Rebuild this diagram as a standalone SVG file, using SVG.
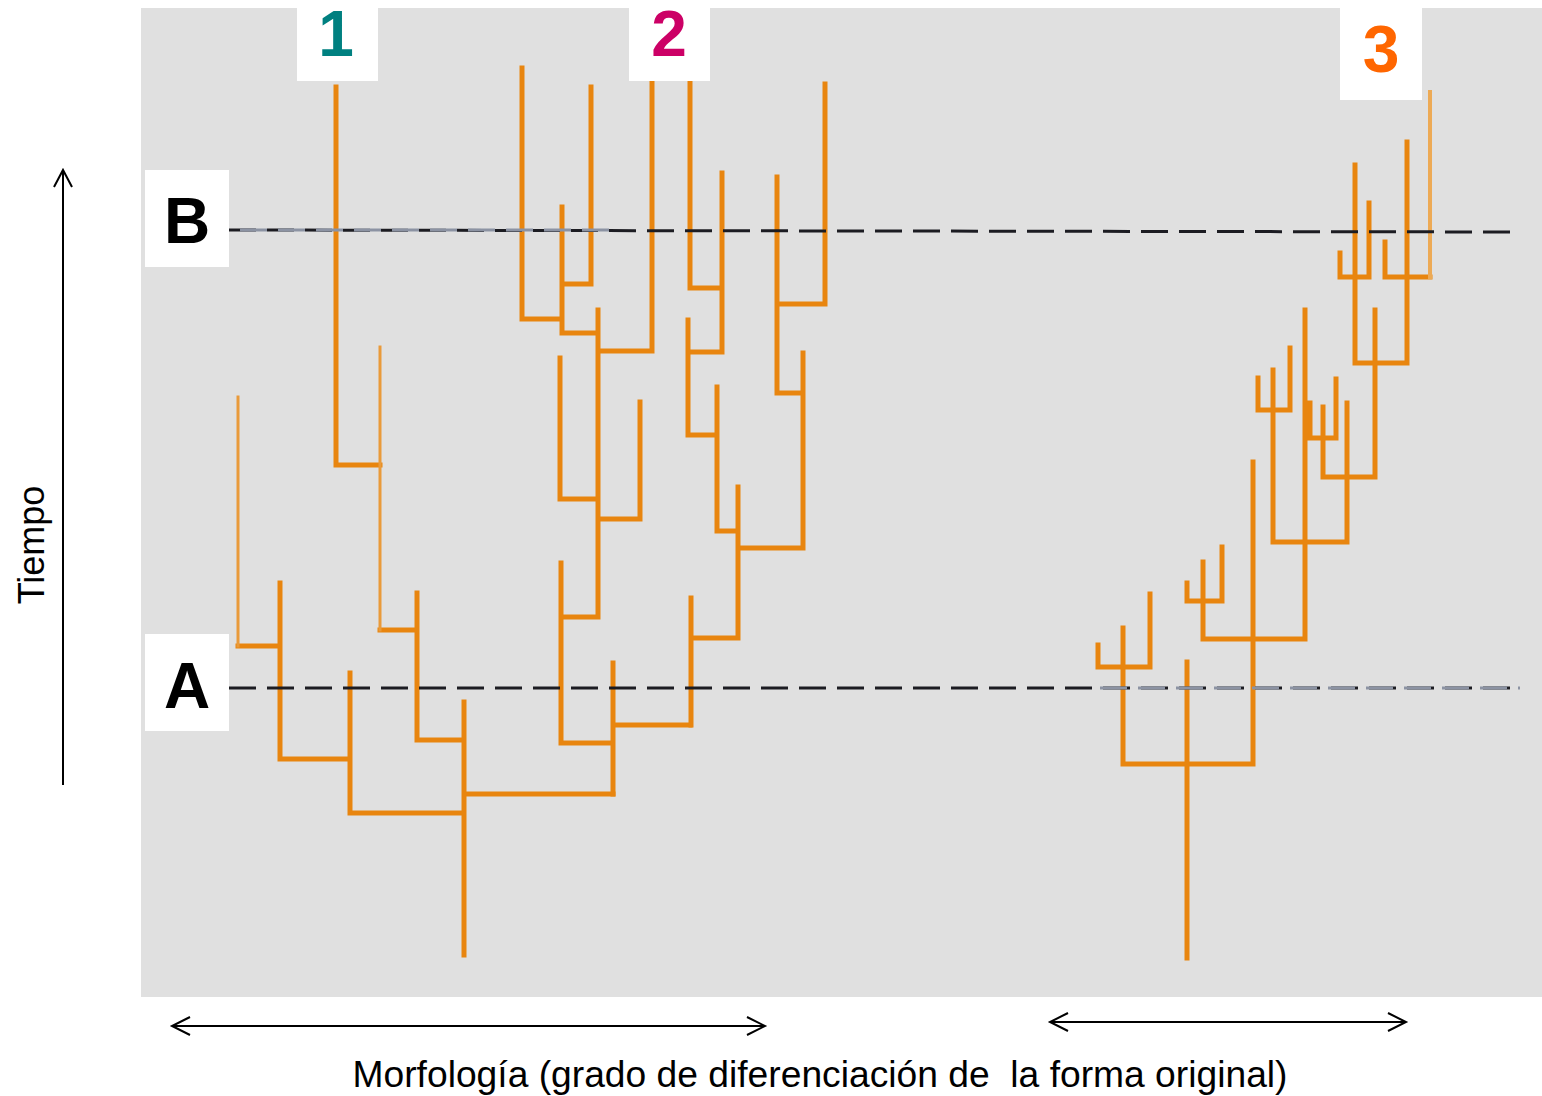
<svg xmlns="http://www.w3.org/2000/svg" width="1542" height="1096" viewBox="0 0 1542 1096">
<style>
.br{fill:none;stroke:#e8850f;stroke-width:5;stroke-linecap:square}
.tn{fill:none;stroke:#e99a3a;stroke-width:3;stroke-linecap:square}
.dash{fill:none;stroke:#1c1c22;stroke-width:3;stroke-dasharray:27 11}
.dashl{fill:none;stroke:#8c93a3;stroke-width:3;stroke-dasharray:27 11}
.ax{fill:none;stroke:#000;stroke-width:2}
.lbl{font-family:"Liberation Sans",Arial,sans-serif;font-weight:bold;text-anchor:middle}
.box{fill:#fff}
</style>
<rect x="0" y="0" width="1542" height="1096" fill="#fff"/>
<rect x="141" y="8" width="1401" height="989" fill="#e0e0e0"/>

<g id="tree-left">
<path class="br" d="M464,955V702 M350,813H464 M464,794H613 M350,813V673 M280,759H350 M280,759V583 M238,646H280 M417,740H464 M417,740V593 M380,630H417 M336,465H380 M336,465V87"/>
<path class="tn" d="M238,646V397 M380,630V347"/>
<path class="br" d="M613,794V663 M613,725H690 M561,743H613 M561,743V563 M561,617H598 M598,617V310 M598,519H640 M640,519V402 M560,499H598 M560,499V358 M598,351H652 M652,351V83 M562,333H598 M562,333V207 M562,284H591 M591,284V87 M522,319H562 M522,319V68"/>
<path class="br" d="M691,725V598 M691,638H738 M738,638V487 M738,548H803 M803,548V353 M777,393H803 M777,393V177 M777,304H825 M825,304V84 M717,531H738 M717,531V387 M688,435H717 M688,435V320 M688,352H722 M722,352V173 M690,288H722 M690,288V83"/>
</g>

<g id="tree-right">
<path class="br" d="M1187,958V662 M1123,764H1253 M1123,764V628 M1098,667H1150 M1098,667V645 M1150,667V594 M1253,764V462 M1203,639H1305 M1203,639V562 M1187,601H1222 M1187,601V583 M1222,601V547 M1305,639V310 M1273,542H1347 M1273,542V370 M1258,410H1290 M1258,410V378 M1290,410V348 M1347,542V403 M1323,477H1375 M1323,477V407 M1310,438H1336 M1310,438V403 M1336,438V379 M1375,477V310 M1355,363H1407 M1355,363V165 M1340,277H1369 M1340,277V253 M1369,277V203 M1407,363V142 M1385,277H1430 M1385,277V242"/>
<path class="tn" d="M1430,277V92" style="stroke:#edaa55;stroke-width:4"/>
</g>

<g id="connectors">
<path class="dash" d="M229,230L1520,232"/>
<path class="dashl" d="M240,230H620"/>
<path class="dash" d="M229,688H1520"/>
<path class="dashl" d="M1100,688H1520"/>
<path class="ax" d="M63,785V170 M54,187L63,170L72,187"/>
<path class="ax" d="M172,1026H765 M190,1017L172,1026L190,1035 M747,1017L765,1026L747,1035"/>
<path class="ax" d="M1050,1022H1406 M1068,1013L1050,1022L1068,1031 M1388,1013L1406,1022L1388,1031"/>
</g>

<g id="label-1"><rect class="box" x="297" y="0" width="81" height="81"/><text class="lbl" x="336" y="56" font-size="64" fill="#008080">1</text></g>
<g id="label-2"><rect class="box" x="629" y="0" width="81" height="81"/><text class="lbl" x="669" y="56" font-size="64" fill="#cc0066">2</text></g>
<g id="label-3"><rect class="box" x="1340" y="0" width="82" height="100"/><text class="lbl" x="1381" y="72" font-size="66" fill="#ff6600">3</text></g>
<g id="label-B"><rect class="box" x="145" y="170" width="84" height="97"/><text class="lbl" x="187" y="243" font-size="64" fill="#000">B</text></g>
<g id="label-A"><rect class="box" x="145" y="634" width="84" height="97"/><text class="lbl" x="187" y="708" font-size="64" fill="#000">A</text></g>

<text x="44" y="545" transform="rotate(-90 44 545)" font-family="Liberation Sans, Arial, sans-serif" font-size="36" text-anchor="middle" fill="#000">Tiempo</text>
<text x="820" y="1087" font-family="Liberation Sans, Arial, sans-serif" font-size="37" text-anchor="middle" fill="#000" xml:space="preserve" textLength="935" lengthAdjust="spacingAndGlyphs">Morfología (grado de diferenciación de  la forma original)</text>
</svg>
